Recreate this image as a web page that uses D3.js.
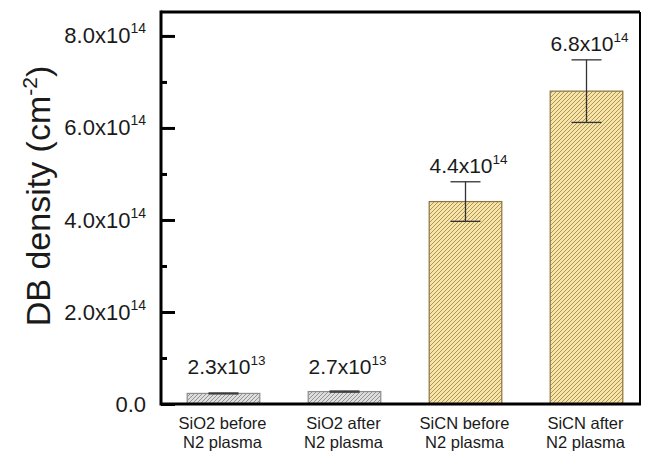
<!DOCTYPE html>
<html>
<head>
<meta charset="utf-8">
<script src="https://cdn.jsdelivr.net/npm/d3@7"></script>
<style>
  body { margin: 0; background: #fff; }
  text { font-family: "Liberation Sans", Arial, sans-serif; fill: #1a1a1a; }
</style>
</head>
<body>
<div id="chart"></div>
<script>
// data
const categories = [["SiO2 before", "N2 plasma"], ["SiO2 after", "N2 plasma"], ["SiCN before", "N2 plasma"], ["SiCN after", "N2 plasma"]];
const values = [2.3e13, 2.7e13, 4.4e14, 6.8e14];
const errors = [1.0e12, 1.2e12, 0.43e14, 0.68e14];
const valueLabels = [["2.3x10", "13"], ["2.7x10", "13"], ["4.4x10", "14"], ["6.8x10", "14"]];
const groups = ["SiO2", "SiO2", "SiCN", "SiCN"];
const majorTicks = [0, 2e14, 4e14, 6e14, 8e14];
const minorTicks = [1e14, 3e14, 5e14, 7e14];

const width = 645, height = 451;
const margin = {top: 12, right: 5, bottom: 47, left: 161};

const svg = d3.select("#chart").append("svg")
  .attr("width", width).attr("height", height);

const defs = svg.append("defs");
function hatch(id, bg, fg) {
  let p = defs.append("pattern")
    .attr("id", id)
    .attr("patternUnits", "userSpaceOnUse")
    .attr("width", 4).attr("height", 4);
  p.append("rect").attr("width", 4).attr("height", 4).attr("fill", bg);
  p.append("path")
    .attr("d", "M-1,1 l2,-2 M0,4 l4,-4 M3,5 l2,-2")
    .attr("stroke", fg).attr("stroke-width", 0.9);
}
hatch("hatchSiO2", "#dddddd", "#8a8a8a");
hatch("hatchSiCN", "#f8e4a4", "#a48c58");

const fills = {SiO2: "url(#hatchSiO2)", SiCN: "url(#hatchSiCN)"};
const edges = {SiO2: "#8c8c8c", SiCN: "#8a7440"};

const x = d3.scaleBand()
  .domain(d3.range(values.length))
  .range([margin.left + 2, width + 2])
  .paddingInner(0.4)
  .paddingOuter(0.2);

const y = d3.scaleLinear()
  .domain([0, 8.52e14])
  .range([height - margin.bottom, margin.top]);

let g = svg.append("g");

// bars
g.selectAll("rect.bar")
  .data(values)
  .enter().append("rect")
  .attr("class", "bar")
  .attr("x", (d, i) => x(i))
  .attr("y", d => y(d))
  .attr("width", x.bandwidth())
  .attr("height", d => y(0) - y(d))
  .attr("fill", (d, i) => fills[groups[i]])
  .attr("stroke", (d, i) => edges[groups[i]])
  .attr("stroke-width", 1.2);

// error bars
const capW = 30;
values.forEach((v, i) => {
  let cx = x(i) + x.bandwidth() / 2;
  let eg = g.append("g").attr("stroke", "#333").attr("stroke-width", 1.3);
  eg.append("line").attr("x1", cx).attr("x2", cx)
    .attr("y1", y(v + errors[i])).attr("y2", y(v - errors[i]));
  eg.append("line").attr("x1", cx - capW / 2).attr("x2", cx + capW / 2)
    .attr("y1", y(v + errors[i])).attr("y2", y(v + errors[i]));
  eg.append("line").attr("x1", cx - capW / 2).attr("x2", cx + capW / 2)
    .attr("y1", y(v - errors[i])).attr("y2", y(v - errors[i]));

  // value label
  let ly = Math.min(y(v + errors[i]) - 9, y(0) - 30);
  let t = g.append("text")
    .attr("x", cx + 3).attr("y", ly)
    .attr("text-anchor", "middle")
    .style("font-size", "21px");
  t.append("tspan").text(valueLabels[i][0]);
  t.append("tspan").attr("dy", -9).style("font-size", "13.5px").text(valueLabels[i][1]);
});

// frame
svg.append("line").attr("x1", margin.left).attr("x2", width - 5)
  .attr("y1", margin.top).attr("y2", margin.top)
  .attr("stroke", "#000").attr("stroke-width", 3);
svg.append("line").attr("x1", width - 5).attr("x2", width - 5)
  .attr("y1", margin.top).attr("y2", y(0))
  .attr("stroke", "#000").attr("stroke-width", 2);

// y axis, ticks pointing inward
let yMinor = d3.axisLeft(y).tickValues(minorTicks).tickSize(-6).tickFormat("");
svg.append("g").attr("transform", "translate(" + margin.left + ",0)")
  .call(yMinor)
  .call(a => a.select(".domain").remove())
  .call(a => a.selectAll("line").attr("stroke", "#000").attr("stroke-width", 3));

let yAxis = d3.axisLeft(y).tickValues(majorTicks).tickSize(-14).tickPadding(15)
  .tickFormat(d => d === 0 ? "0.0" : (d / 1e14).toFixed(1) + "x10|14");
let ya = svg.append("g").attr("transform", "translate(" + margin.left + ",0)")
  .call(yAxis);
ya.select(".domain").remove();
ya.selectAll("line").attr("stroke", "#000").attr("stroke-width", 3);
ya.selectAll("text")
  .style("font-family", "'Liberation Sans', Arial, sans-serif")
  .style("font-size", "22px")
  .attr("fill", "#1a1a1a")
  .each(function() {
    let s = d3.select(this).text().split("|");
    let t = d3.select(this).text("");
    t.append("tspan").text(s[0]);
    if (s[1]) t.append("tspan").attr("dy", -10).style("font-size", "14px").text(s[1]);
  });

svg.append("line").attr("x1", margin.left).attr("x2", margin.left)
  .attr("y1", margin.top - 1.5).attr("y2", y(0) + 1.5)
  .attr("stroke", "#000").attr("stroke-width", 3);

// x axis
let xAxis = d3.axisBottom(x).tickSize(0).tickPadding(0).tickFormat("");
let xa = svg.append("g").attr("transform", "translate(0," + y(0) + ")").call(xAxis);
xa.select(".domain").remove();
svg.append("line").attr("x1", margin.left).attr("x2", width - 4)
  .attr("y1", y(0)).attr("y2", y(0))
  .attr("stroke", "#000").attr("stroke-width", 3);

categories.forEach((c, i) => {
  let t = svg.append("text")
    .attr("x", x(i) + x.bandwidth() / 2 - 1)
    .attr("y", y(0) + 25)
    .attr("text-anchor", "middle")
    .style("font-size", "16.5px");
  t.append("tspan").text(c[0]);
  t.append("tspan").attr("x", x(i) + x.bandwidth() / 2 - 1).attr("dy", 18.5).text(c[1]);
});

// y title
let yt = svg.append("text")
  .attr("transform", "translate(50,196) rotate(-90)")
  .attr("text-anchor", "middle")
  .style("font-size", "34px");
yt.append("tspan").text("DB density (cm");
yt.append("tspan").attr("dy", -13).style("font-size", "21px").text("-2");
yt.append("tspan").attr("dy", 13).text(")");
</script>
</body>
</html>
